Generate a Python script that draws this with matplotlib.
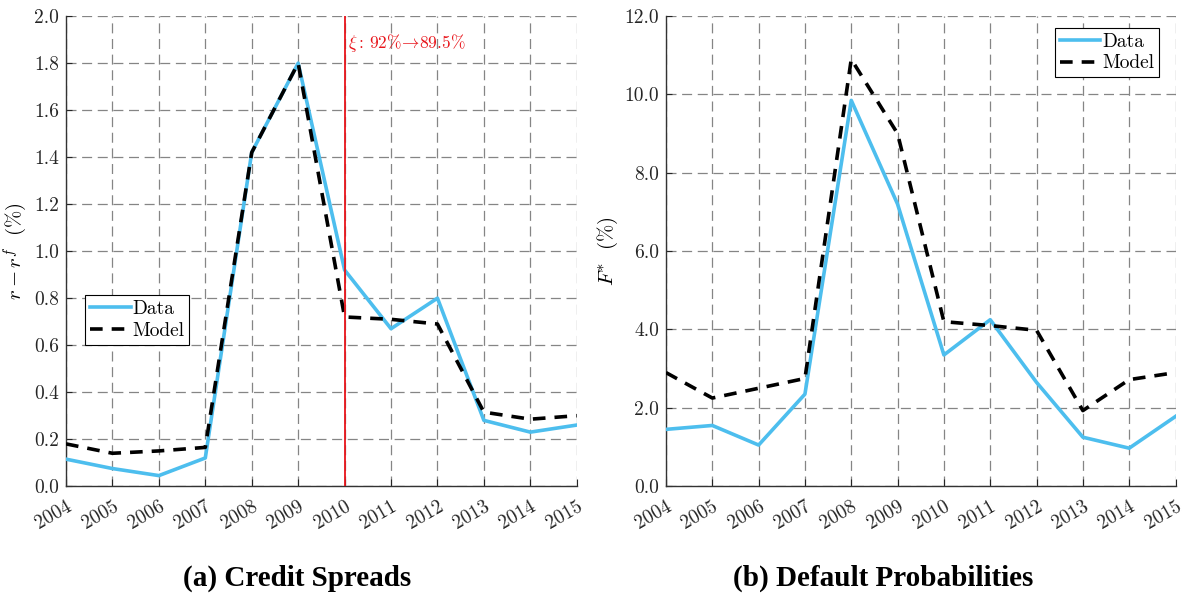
import matplotlib
matplotlib.use("Agg")
import matplotlib.pyplot as plt
from matplotlib.ticker import FormatStrFormatter

plt.rcParams["font.family"] = "serif"
plt.rcParams["font.serif"] = ["cmr10", "DejaVu Serif"]
plt.rcParams["mathtext.fontset"] = "cm"
plt.rcParams["axes.unicode_minus"] = False
plt.rcParams["axes.formatter.use_mathtext"] = True

years = list(range(2004, 2016))

# Credit spreads r - r^f (%)
spread_data = [0.115, 0.075, 0.045, 0.12, 1.42, 1.80, 0.92, 0.67, 0.80, 0.28, 0.23, 0.26]
spread_model = [0.18, 0.14, 0.15, 0.165, 1.42, 1.80, 0.72, 0.71, 0.69, 0.315, 0.285, 0.30]

# Default probabilities F* (%)
default_data = [1.45, 1.55, 1.05, 2.35, 9.85, 7.2, 3.35, 4.25, 2.65, 1.25, 0.97, 1.78]
default_model = [2.9, 2.25, 2.5, 2.75, 10.9, 9.0, 4.2, 4.1, 3.98, 1.93, 2.72, 2.9]

break_year = 2010
break_label = r"$\xi:\,92\%\!\rightarrow\!89.5\%$"

blue = "#4DBEEE"

fig = plt.figure(figsize=(11.85, 5.98), dpi=100)
ax1 = fig.add_axes([0.0557, 0.187, 0.431, 0.786])
ax2 = fig.add_axes([0.562, 0.187, 0.430, 0.786])


def style_axes(ax, ymax, ystep):
    ax.set_xlim(years[0], years[-1])
    ax.set_ylim(0, ymax)
    ax.set_xticks(years)
    ax.set_xticklabels([str(y) for y in years], rotation=30, fontsize=14,
                       ha="right", va="top", rotation_mode="anchor")
    ticks = [i * ystep for i in range(int(round(ymax / ystep)) + 1)]
    ax.set_yticks(ticks)
    ax.yaxis.set_major_formatter(FormatStrFormatter("%.1f"))
    ax.tick_params(axis="y", labelsize=14, direction="in", length=4, width=0.8,
                   pad=5, colors="#262626")
    ax.tick_params(axis="x", direction="in", length=5, width=0.8, pad=8,
                   colors="#262626")
    ax.grid(True, color="#858585", linestyle=(0, (8, 4.5)), linewidth=0.9)
    ax.set_axisbelow(True)
    for side in ["top", "right"]:
        ax.spines[side].set_visible(False)
    for side in ["left", "bottom"]:
        ax.spines[side].set_color("#333333")
        ax.spines[side].set_linewidth(1.0)


legend_style = dict(fontsize=14, fancybox=False, edgecolor="black", framealpha=1,
                    handlelength=2.1, handletextpad=0.1, borderpad=0.25,
                    labelspacing=0.2, borderaxespad=0)

# Left panel: credit spreads
ax1.plot(years, spread_data, color=blue, linewidth=2.6, label="Data", zorder=3)
ax1.plot(years, spread_model, color="black", linewidth=2.6,
         linestyle=(0, (3.5, 2.5)), label="Model", zorder=4)
ax1.axvline(break_year, color="#e8141a", linewidth=1.3, zorder=5)
ax1.text(break_year + 0.07, 1.885, break_label, color="#e8141a", fontsize=12.5,
         va="center", ha="left")
style_axes(ax1, 2.0, 0.2)
ax1.set_ylabel(r"$r-r^{f}\ \ (\%)$", fontsize=15, labelpad=3)
leg1 = ax1.legend(loc="upper left", bbox_to_anchor=(0.037, 0.406), **legend_style)
leg1.get_frame().set_linewidth(0.8)

# Right panel: default probabilities
ax2.plot(years, default_data, color=blue, linewidth=2.6, label="Data", zorder=3)
ax2.plot(years, default_model, color="black", linewidth=2.6,
         linestyle=(0, (3.5, 2.5)), label="Model", zorder=4)
style_axes(ax2, 12.0, 2.0)
ax2.set_ylabel(r"$F^{*}\ \ (\%)$", fontsize=15, labelpad=3)
leg2 = ax2.legend(loc="upper right", bbox_to_anchor=(0.968, 0.975), **legend_style)
leg2.get_frame().set_linewidth(0.8)

# Panel captions
fig.text(0.251, 0.033, "(a) Credit Spreads", ha="center", va="center",
         fontsize=21, fontweight="bold", family="Liberation Serif")
fig.text(0.745, 0.033, "(b) Default Probabilities", ha="center", va="center",
         fontsize=21, fontweight="bold", family="Liberation Serif")

fig.savefig("out.png", dpi=100)
